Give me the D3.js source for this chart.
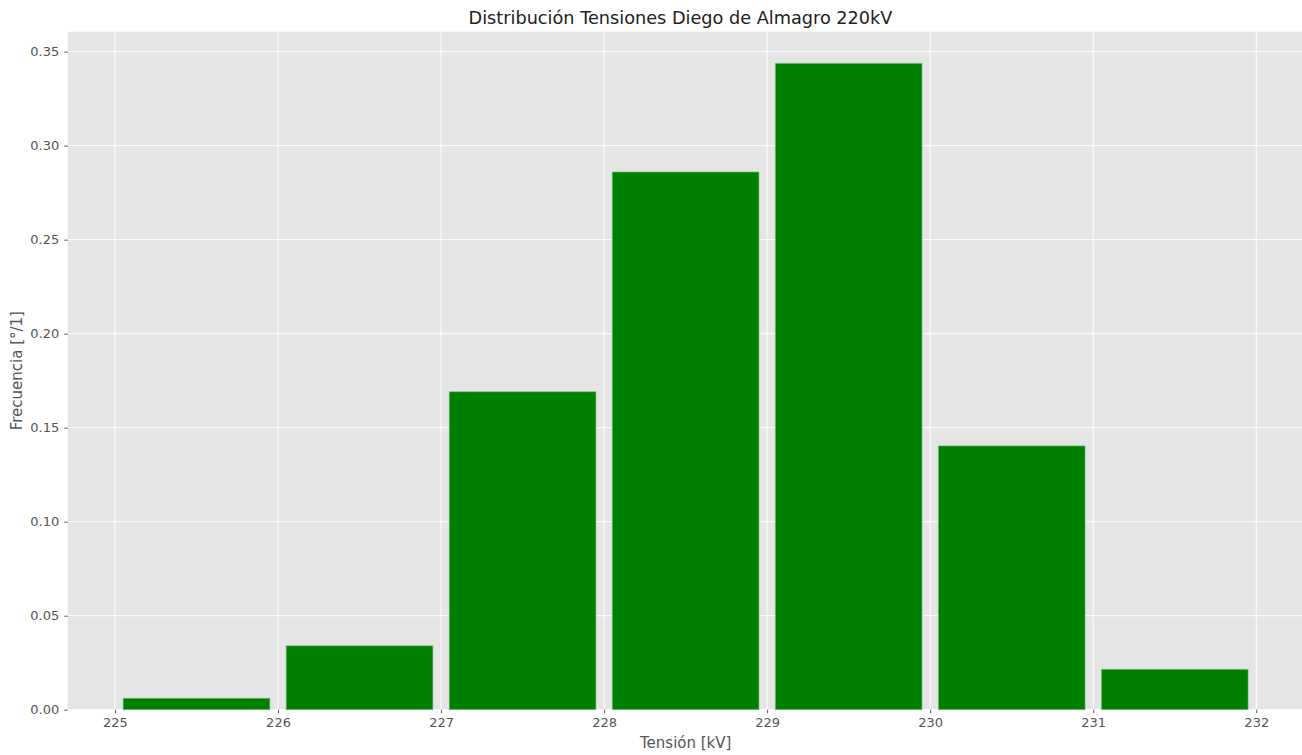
<!DOCTYPE html>
<html><head><meta charset="utf-8">
<script src="https://cdn.jsdelivr.net/npm/d3@7"></script>
<style>body{margin:0;background:#fff;overflow:hidden}svg{display:block}</style>
</head><body>
<script>
const binStarts = [225, 226, 227, 228, 229, 230, 231];
const frequencies = [0.0061, 0.0340, 0.1691, 0.2860, 0.3438, 0.1403, 0.0215];
const xTicks = [225, 226, 227, 228, 229, 230, 231, 232];
const yTicks = [0.00, 0.05, 0.10, 0.15, 0.20, 0.25, 0.30, 0.35];
const binWidth = 1, rwidth = 0.9;

const W = 1302, H = 755;
const m = {l: 67.7, t: 31.7, b: 709.7};
const svg = d3.select("body").append("svg").attr("width", W).attr("height", H)
  .style("font-family", "'DejaVu Sans', sans-serif");

const x = d3.scaleLinear().domain([224.71, 232.29]).range([m.l, m.l + 7.58 * 163.04]);
const y = d3.scaleLinear().domain([0, 0.3606]).range([m.b, m.t]);
const right = x.range()[1];

svg.append("rect").attr("x", m.l).attr("y", m.t).attr("width", right - m.l).attr("height", m.b - m.t).attr("fill", "#E5E5E5");

const g = svg.append("g");
g.selectAll(".gx").data(xTicks).join("line").attr("x1", d => x(d)).attr("x2", d => x(d))
  .attr("y1", m.t).attr("y2", m.b).attr("stroke", "#fff").attr("stroke-width", 1);
g.selectAll(".gy").data(yTicks).join("line").attr("x1", m.l).attr("x2", right)
  .attr("y1", d => y(d)).attr("y2", d => y(d)).attr("stroke", "#fff").attr("stroke-width", 1);

const off = binWidth * (1 - rwidth) / 2;
svg.selectAll(".bar").data(binStarts).join("rect")
  .attr("x", (d) => x(d + off))
  .attr("width", (d) => x(d + binWidth - off) - x(d + off))
  .attr("y", (d, i) => y(frequencies[i]))
  .attr("height", (d, i) => y(0) - y(frequencies[i]))
  .attr("fill", "#008000").attr("stroke", "#7fbf7f").attr("stroke-width", 0.8).attr("stroke-opacity", 0.8);

const xAxis = d3.axisBottom(x).tickValues(xTicks).tickFormat(d3.format("d")).tickSize(3.5).tickPadding(5);
const xg = svg.append("g").attr("transform", `translate(0,${m.b})`).call(xAxis);
const yAxis = d3.axisLeft(y).tickValues(yTicks).tickFormat(d3.format(".2f")).tickSize(3.5).tickPadding(5);
const yg = svg.append("g").attr("transform", `translate(${m.l},0)`).call(yAxis);
[xg, yg].forEach(a => {
  a.select(".domain").remove();
  a.selectAll(".tick line").attr("stroke", "#555").attr("stroke-width", 1);
  a.selectAll(".tick text").attr("fill", "#555").style("font-size", "13px").style("font-family", "'DejaVu Sans', sans-serif");
});

svg.append("text").attr("x", 680.5).attr("y", 24).attr("text-anchor", "middle")
  .style("font-size", "17.7px").attr("fill", "#222").text("Distribución Tensiones Diego de Almagro 220kV");
svg.append("text").attr("x", 685.7).attr("y", 748).attr("text-anchor", "middle")
  .style("font-size", "15px").attr("fill", "#555").text("Tensión [kV]");
svg.append("text").attr("transform", `translate(22,${(m.t + m.b) / 2}) rotate(-90)`).attr("text-anchor", "middle")
  .style("font-size", "15px").attr("fill", "#555").text("Frecuencia [°/1]");
</script>
</body></html>
